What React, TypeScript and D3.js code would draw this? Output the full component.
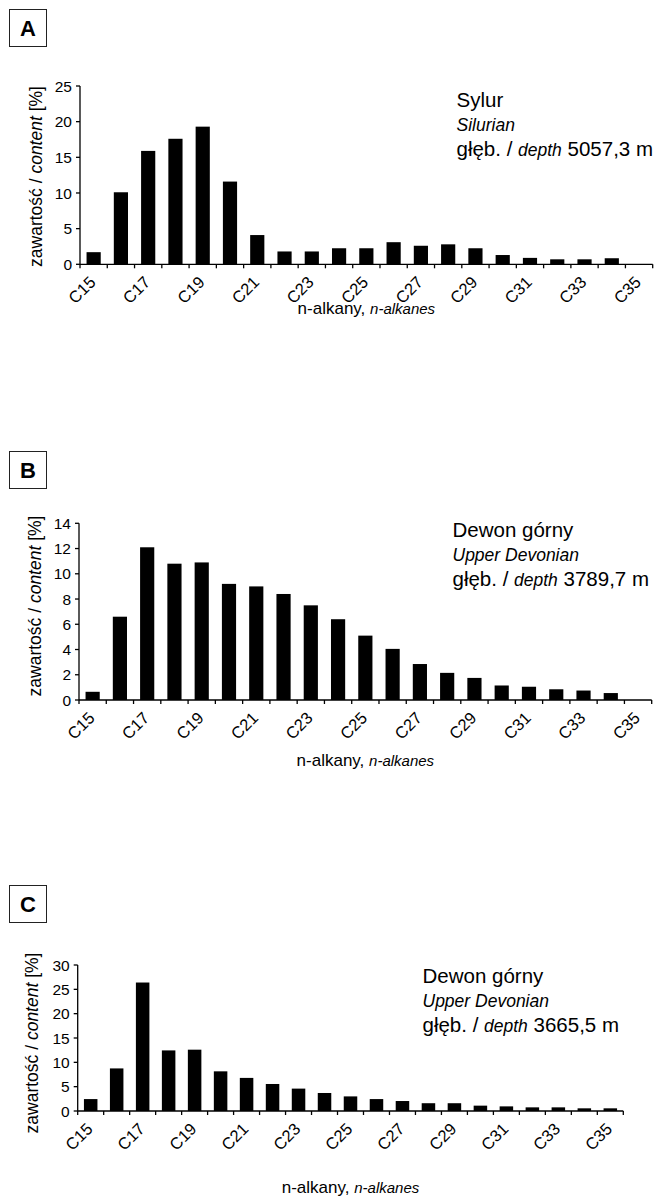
import React from "react";
import * as d3 from "d3";

const WIDTH = 659;
const HEIGHT = 1198;
const FONT = "'Liberation Sans', Arial, sans-serif";

// n-alkane chain lengths
const categories = [
  "C15", "C16", "C17", "C18", "C19", "C20", "C21", "C22", "C23", "C24", "C25",
  "C26", "C27", "C28", "C29", "C30", "C31", "C32", "C33", "C34", "C35",
];
const tickLabels = ["C15", "C17", "C19", "C21", "C23", "C25", "C27", "C29", "C31", "C33", "C35"];

// A - Sylur, 5057,3 m
const silurValues = [
  1.7, 10.1, 15.9, 17.6, 19.3, 11.6, 4.1, 1.8, 1.8, 2.25, 2.25,
  3.1, 2.6, 2.8, 2.25, 1.3, 0.9, 0.7, 0.7, 0.85, 0,
];
const silurTicks = [0, 5, 10, 15, 20, 25];

// B - Dewon górny, 3789,7 m
const devon3789Values = [
  0.65, 6.6, 12.1, 10.8, 10.9, 9.2, 9.0, 8.4, 7.5, 6.4, 5.1,
  4.05, 2.85, 2.15, 1.75, 1.15, 1.05, 0.85, 0.75, 0.55, 0,
];
const devon3789Ticks = [0, 2, 4, 6, 8, 10, 12, 14];

// C - Dewon górny, 3665,5 m
const devon3665Values = [
  2.45, 8.75, 26.4, 12.45, 12.6, 8.15, 6.8, 5.55, 4.6, 3.7, 3.0,
  2.45, 2.05, 1.6, 1.6, 1.1, 0.95, 0.75, 0.75, 0.55, 0.55,
];
const devon3665Ticks = [0, 5, 10, 15, 20, 25, 30];

const panels = [
  {
    letter: "A", boxY: 9,
    values: silurValues, ticks: silurTicks,
    x0: 80, x1: 652.7, y0: 264.3, yTop: 86,
    yLabel: { x: 42, y: 176.5 },
    titleY: 314,
    note: { x: 456.5, y: 107, name: "Sylur", nameEn: "Silurian", depth: "5057,3 m" },
  },
  {
    letter: "B", boxY: 451,
    values: devon3789Values, ticks: devon3789Ticks,
    x0: 79, x1: 651.7, y0: 700, yTop: 523.3,
    yLabel: { x: 41, y: 606 },
    titleY: 766,
    note: { x: 452.5, y: 537, name: "Dewon górny", nameEn: "Upper Devonian", depth: "3789,7 m" },
  },
  {
    letter: "C", boxY: 885,
    values: devon3665Values, ticks: devon3665Ticks,
    x0: 77.7, x1: 623.3, y0: 1111, yTop: 965,
    yLabel: { x: 38, y: 1043 },
    titleY: 1193,
    note: { x: 422.5, y: 983, name: "Dewon górny", nameEn: "Upper Devonian", depth: "3665,5 m" },
  },
];

function Panel({ p }) {
  const x = d3
    .scaleBand()
    .domain(categories)
    .range([p.x0, p.x1])
    .paddingInner(0.48)
    .paddingOuter(0.24);
  const y = d3
    .scaleLinear()
    .domain([0, p.ticks[p.ticks.length - 1]])
    .range([p.y0, p.yTop]);

  const step = x.step();
  const bw = x.bandwidth();
  const boundaries = d3.range(categories.length + 1).map((i) => p.x0 + i * step);

  return (
    <g fontFamily={FONT} fill="#000">
      {/* panel letter */}
      <rect x={9.5} y={p.boxY + 0.5} width={37} height={37} fill="#fff" stroke="#222" strokeWidth={1} />
      <text x={28} y={p.boxY + 27} textAnchor="middle" fontSize={22} fontWeight="bold">
        {p.letter}
      </text>

      {/* bars */}
      {categories.map((c, i) =>
        p.values[i] > 0 ? (
          <rect key={c} x={x(c)} y={y(p.values[i])} width={bw} height={p.y0 - y(p.values[i])} fill="#000" />
        ) : null
      )}

      {/* y axis */}
      <line x1={p.x0} x2={p.x0} y1={y(0)} y2={y(p.ticks[p.ticks.length - 1])} stroke="#000" strokeWidth={1.3} />
      {p.ticks.map((t) => (
        <g key={t}>
          <line x1={p.x0 - 4} x2={p.x0} y1={y(t)} y2={y(t)} stroke="#000" strokeWidth={1.3} />
          <text x={p.x0 - 8} y={y(t)} dy="0.36em" textAnchor="end" fontSize={15.5}>
            {t}
          </text>
        </g>
      ))}

      {/* x axis */}
      <line x1={p.x0} x2={p.x1} y1={p.y0} y2={p.y0} stroke="#000" strokeWidth={1.3} />
      {boundaries.map((bx, i) => (
        <line key={i} x1={bx} x2={bx} y1={p.y0} y2={p.y0 + 4} stroke="#000" strokeWidth={1.3} />
      ))}
      {tickLabels.map((c) => {
        const cx = x(c) + bw / 2 + 3;
        const cy = p.y0 + 19;
        return (
          <text key={c} transform={`translate(${cx},${cy}) rotate(-45)`} textAnchor="end" fontSize={16.5}>
            {c}
          </text>
        );
      })}

      {/* axis titles */}
      <text
        transform={`translate(${p.yLabel.x},${p.yLabel.y}) rotate(-90)`}
        textAnchor="middle"
        fontSize={17.5}
      >
        zawartość / <tspan fontStyle="italic">content</tspan> [%]
      </text>
      <text x={(p.x0 + p.x1) / 2} y={p.titleY} textAnchor="middle" fontSize={17}>
        n-alkany, <tspan fontStyle="italic" fontSize={15}>n-alkanes</tspan>
      </text>

      {/* sample note */}
      <text x={p.note.x} y={p.note.y} fontSize={20.5}>
        {p.note.name}
      </text>
      <text x={p.note.x} y={p.note.y + 24} fontSize={17.5} fontStyle="italic">
        {p.note.nameEn}
      </text>
      <text x={p.note.x} y={p.note.y + 49} fontSize={20.5}>
        głęb. / <tspan fontStyle="italic" fontSize={17.5}>depth</tspan> {p.note.depth}
      </text>
    </g>
  );
}

export default function App() {
  return (
    <svg
      width={WIDTH}
      height={HEIGHT}
      style={{ position: "absolute", left: 0, top: 0, background: "#fff" }}
    >
      <rect width={WIDTH} height={HEIGHT} fill="#fff" />
      {panels.map((p) => (
        <Panel key={p.letter} p={p} />
      ))}
    </svg>
  );
}
